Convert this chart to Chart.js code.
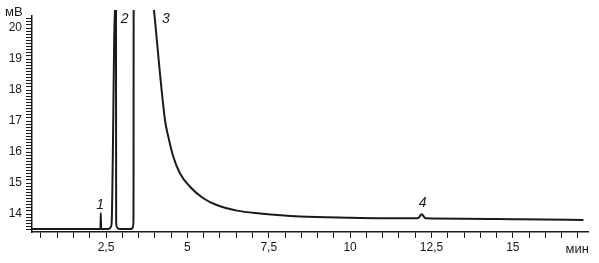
<!DOCTYPE html>
<html><head><meta charset="utf-8">
<script src="https://cdn.jsdelivr.net/npm/chart.js@4"></script>
<style>html,body{margin:0;padding:0;background:#fff}#wrap{width:599px;height:263px;position:relative}</style>
</head><body><div id="wrap"><canvas id="c"></canvas></div>
<script>
// Retention time, min
const times = [0.23, 2.33, 2.34, 2.35, 2.55, 2.62, 2.655, 2.675, 2.781, 2.806, 2.812, 2.83, 2.87, 2.93,
  3.27, 3.31, 3.335, 3.345, 3.35, 3.955, 3.975, 4.313, 4.415, 4.568, 4.774, 5.08, 5.49, 5.90, 6.52, 7.23,
  8.46, 10.0, 11.5, 12.08, 12.2, 12.32, 13.5, 15.2, 17.17];
// Detector signal, mV
const signal = [13.52, 13.52, 14.03, 13.52, 13.52, 13.54, 13.6, 13.75, 20.8, 20.8, 13.75, 13.58, 13.53, 13.52,
  13.52, 13.54, 13.62, 14.0, 20.8, 20.8, 20.58, 17.03, 16.49, 15.85, 15.31, 14.88, 14.51, 14.29, 14.11, 14.02,
  13.92, 13.88, 13.86, 13.86, 13.99, 13.86, 13.85, 13.83, 13.81];
const xLabelValues = [2.5, 5, 7.5, 10, 12.5, 15];
const xLabelTexts = ['2,5', '5', '7,5', '10', '12,5', '15'];
const yLabelValues = [14, 15, 16, 17, 18, 19, 20];
const yLabelTexts = ['14', '15', '16', '17', '18', '19', '20'];
const xMinorStep = 0.5, xFirstTick = 0.5, xLastTick = 17;
const yMinorStep = 0.1, yFirstTick = 13.5, yLastTick = 20.3;
const xMin = 0.226, xMax = 17.31, yMin = 13.42, yMax = 20.39;
const peakNames = ['1', '2', '3', '4'];
const peakLabelTimes = [2.32, 3.07, 4.34, 12.23];
const peakLabelValues = [14.16, 20.18, 20.16, 14.23];
const yUnit = 'мВ', xUnit = 'мин';

function stepTicks(a, b, s) {
  const out = [];
  const n = Math.round((b - a) / s);
  for (let i = 0; i <= n; i++) out.push({ value: Math.round((a + i * s) * 1000) / 1000 });
  return out;
}
function labelFor(vals, texts, v) {
  const i = vals.findIndex(a => Math.abs(a - v) < 1e-6);
  return i >= 0 ? texts[i] : '';
}
const INK = '#1a1a1a';
const FONT = '"Liberation Sans", Arial, sans-serif';
const annot = {
  id: 'annot',
  afterDraw(chart) {
    const ctx = chart.ctx, xs = chart.scales.x, ys = chart.scales.y, ca = chart.chartArea;
    ctx.save();
    ctx.fillStyle = INK;
    ctx.font = 'italic 14px ' + FONT;
    ctx.textAlign = 'center';
    peakNames.forEach((n, i) => ctx.fillText(n, xs.getPixelForValue(peakLabelTimes[i]), ys.getPixelForValue(peakLabelValues[i])));
    ctx.font = '13px ' + FONT;
    ctx.textAlign = 'left';
    ctx.fillText(yUnit, ca.left - 27, ca.top);
    ctx.textAlign = 'right';
    ctx.fillText(xUnit, ca.right + 1, ca.bottom + 21);
    ctx.restore();
  }
};
new Chart(document.getElementById('c'), {
  type: 'line',
  data: { datasets: [{ data: times.map((t, i) => ({ x: t, y: signal[i] })), borderColor: INK, borderWidth: 2, pointRadius: 0,
      cubicInterpolationMode: 'monotone', clip: { left: 0, top: 6, right: 0, bottom: 0 } }] },
  options: {
    responsive: true, maintainAspectRatio: false, animation: false, events: [],
    layout: { padding: { left: 0, top: 16, right: 11, bottom: 0 } },
    plugins: { legend: { display: false }, tooltip: { enabled: false } },
    scales: {
      x: { type: 'linear', min: xMin, max: xMax,
        afterFit(s) { s.height = 31; },
        afterBuildTicks(s) { s.ticks = stepTicks(xFirstTick, xLastTick, xMinorStep); },
        grid: { drawOnChartArea: false, drawTicks: true, tickLength: 6, color: INK, lineWidth: 1 },
        border: { display: true, color: INK, width: 1.5 },
        ticks: { autoSkip: false, maxRotation: 0, padding: 2, color: INK, font: { family: FONT, size: 12 },
          callback: v => labelFor(xLabelValues, xLabelTexts, v) } },
      y: { type: 'linear', min: yMin, max: yMax,
        afterFit(s) { s.width = 32; },
        afterBuildTicks(s) { s.ticks = stepTicks(yFirstTick, yLastTick, yMinorStep); },
        grid: { drawOnChartArea: false, drawTicks: true, tickLength: 6, color: INK, lineWidth: 1 },
        border: { display: true, color: INK, width: 1.5 },
        ticks: { autoSkip: false, padding: 4, color: INK, font: { family: FONT, size: 12 },
          callback: v => labelFor(yLabelValues, yLabelTexts, v) } }
    }
  },
  plugins: [annot]
});
</script></body></html>
